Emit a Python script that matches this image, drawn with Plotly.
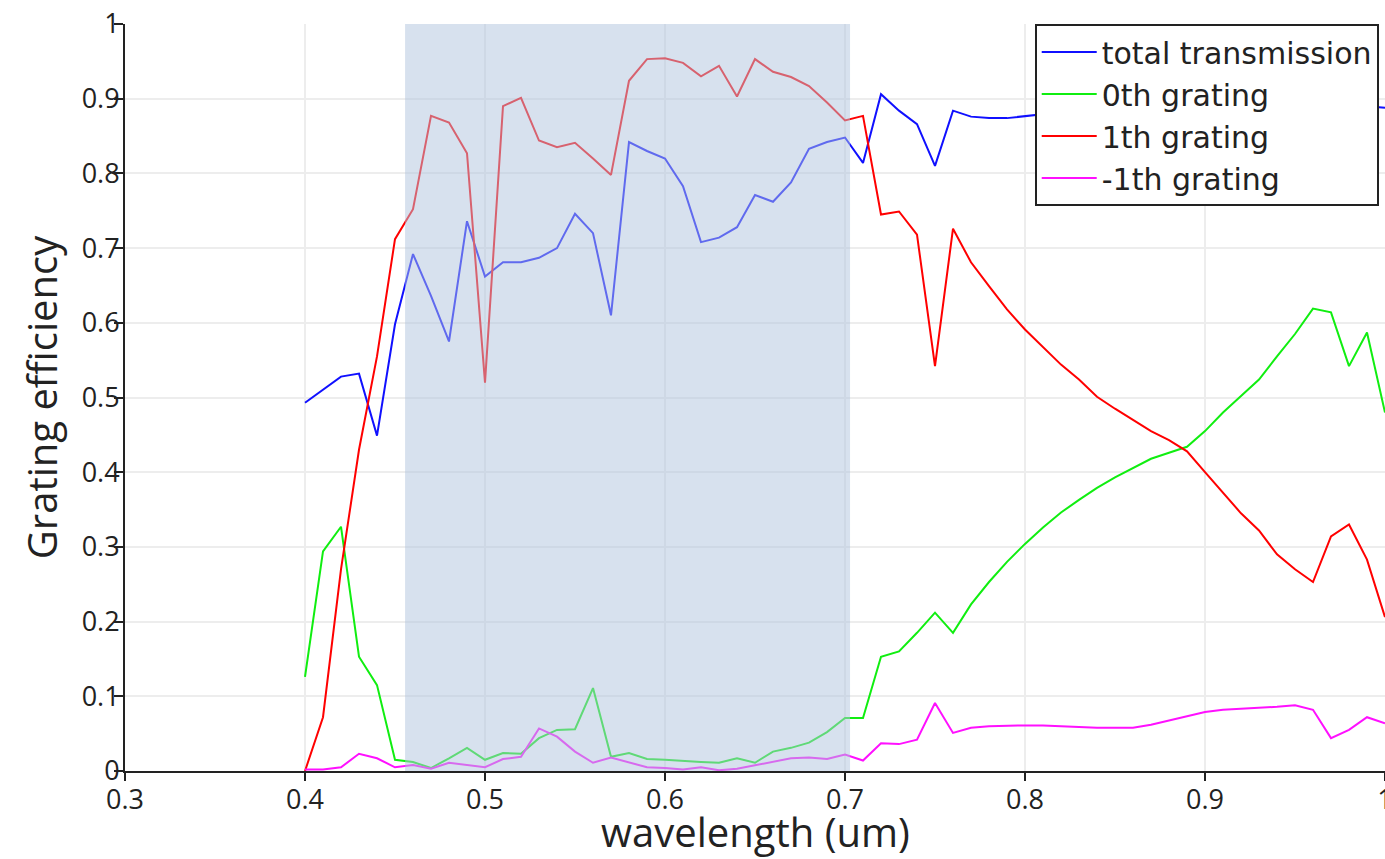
import plotly.graph_objects as go

wavelength = [round(0.40 + 0.01 * i, 2) for i in range(61)]

total_transmission = [
    0.493, 0.510, 0.528, 0.532, 0.449, 0.598, 0.692, 0.636, 0.575, 0.736,
    0.662, 0.681, 0.681, 0.687, 0.700, 0.746, 0.720, 0.610, 0.842, 0.830,
    0.820, 0.783, 0.708, 0.714, 0.728, 0.771, 0.762, 0.788, 0.833, 0.842,
    0.848, 0.814, 0.906, 0.884, 0.866, 0.810, 0.884, 0.876, 0.874, 0.874,
    0.877, 0.880, 0.882, 0.884, 0.885, 0.886, 0.888, 0.889, 0.890, 0.890,
    0.891, 0.892, 0.893, 0.894, 0.895, 0.896, 0.895, 0.893, 0.892, 0.890,
    0.888,
]

grating_0th = [
    0.126, 0.294, 0.327, 0.153, 0.115, 0.015, 0.012, 0.004, 0.017, 0.031,
    0.015, 0.024, 0.023, 0.044, 0.055, 0.056, 0.111, 0.019, 0.024, 0.016,
    0.015, 0.013, 0.012, 0.011, 0.017, 0.011, 0.026, 0.031, 0.038, 0.052,
    0.071, 0.071, 0.153, 0.160, 0.185, 0.212, 0.185, 0.223, 0.253, 0.280,
    0.304, 0.326, 0.346, 0.363, 0.379, 0.393, 0.405, 0.418, 0.426, 0.434,
    0.455, 0.480, 0.502, 0.524, 0.555, 0.585, 0.619, 0.614, 0.542, 0.587,
    0.480,
]

grating_1th = [
    0.000, 0.072, 0.270, 0.430, 0.555, 0.712, 0.752, 0.877, 0.868, 0.827,
    0.520, 0.890, 0.901, 0.844, 0.835, 0.841, 0.820, 0.798, 0.924, 0.953,
    0.954, 0.948, 0.930, 0.944, 0.903, 0.953, 0.936, 0.929, 0.917, 0.895,
    0.871, 0.877, 0.745, 0.749, 0.718, 0.542, 0.726, 0.681, 0.649, 0.618,
    0.591, 0.567, 0.544, 0.524, 0.501, 0.485, 0.470, 0.455, 0.443, 0.428,
    0.400, 0.372, 0.345, 0.322, 0.290, 0.270, 0.253, 0.314, 0.330, 0.283,
    0.206,
]

grating_m1th = [
    0.002, 0.002, 0.005, 0.023, 0.017, 0.005, 0.008, 0.003, 0.011, 0.008,
    0.005, 0.016, 0.019, 0.057, 0.046, 0.026, 0.011, 0.018, 0.011, 0.005,
    0.004, 0.002, 0.005, 0.001, 0.003, 0.008, 0.013, 0.017, 0.018, 0.016,
    0.022, 0.014, 0.037, 0.036, 0.042, 0.091, 0.051, 0.058, 0.060, 0.061,
    0.061, 0.061, 0.060, 0.059, 0.058, 0.058, 0.058, 0.062, 0.068, 0.074,
    0.079, 0.082, 0.083, 0.084, 0.086, 0.088, 0.082, 0.044, 0.055, 0.072,
    0.064,
]

series_names = ["total transmission", "0th grating", "1th grating", "-1th grating"]
series_colors = ["#1010ff", "#10ee10", "#ff0000", "#ff10ff"]
series_values = [total_transmission, grating_0th, grating_1th, grating_m1th]

band_start = 0.4556
band_end = 0.7028

fig = go.Figure()
for name, color, vals in zip(series_names, series_colors, series_values):
    fig.add_trace(go.Scatter(
        x=wavelength, y=vals, mode="lines", name=name,
        line=dict(color=color, width=2),
    ))

fig.add_shape(
    type="rect", xref="x", yref="y",
    x0=band_start, x1=band_end, y0=0, y1=1,
    fillcolor="lightsteelblue", opacity=0.5, line=dict(width=0),
    layer="above",
)

tick_font = dict(family="Open Sans", size=27, color="#222")
title_font = dict(family="Open Sans", size=40, color="#222")

fig.add_annotation(
    text="wavelength (um)", xref="paper", yref="paper",
    x=0.5, y=-0.081, xanchor="center", yanchor="middle",
    showarrow=False, font=title_font,
)

fig.update_layout(
    width=1385, height=859,
    margin=dict(l=125, r=0, t=24, b=88, autoexpand=False),
    paper_bgcolor="white", plot_bgcolor="white",
    showlegend=True,
    legend=dict(
        x=0.722, xanchor="left", y=1.0, yanchor="top",
        bgcolor="white", bordercolor="#222", borderwidth=2,
        font=dict(family="DejaVu Sans", size=30, color="#222"),
        itemwidth=55,
    ),
    xaxis=dict(
        range=[0.3, 1.0], dtick=0.1, tick0=0.3,
        showgrid=True, gridcolor="#ededed", gridwidth=1.5,
        showline=True, linecolor="#222", linewidth=2,
        ticks="outside", ticklen=8, tickwidth=2, tickcolor="#222",
        tickfont=tick_font, zeroline=False, automargin=False,
        ticklabelstandoff=-4, ticklabeloverflow="allow",
    ),
    yaxis=dict(
        range=[0, 1.0], dtick=0.1,
        showgrid=True, gridcolor="#ededed", gridwidth=1.5,
        showline=True, linecolor="#222", linewidth=2,
        ticks="outside", ticklen=9, tickwidth=2, tickcolor="#222",
        tickfont=tick_font, zeroline=False, automargin=False,
        ticklabelstandoff=-11, ticklabeloverflow="allow",
        title=dict(text="Grating efficiency", font=title_font, standoff=12),
    ),
)

fig.write_html(
    "out.html",
    config={"displayModeBar": False},
    post_script="document.body.style.margin='0';document.body.style.overflow='hidden';",
)
